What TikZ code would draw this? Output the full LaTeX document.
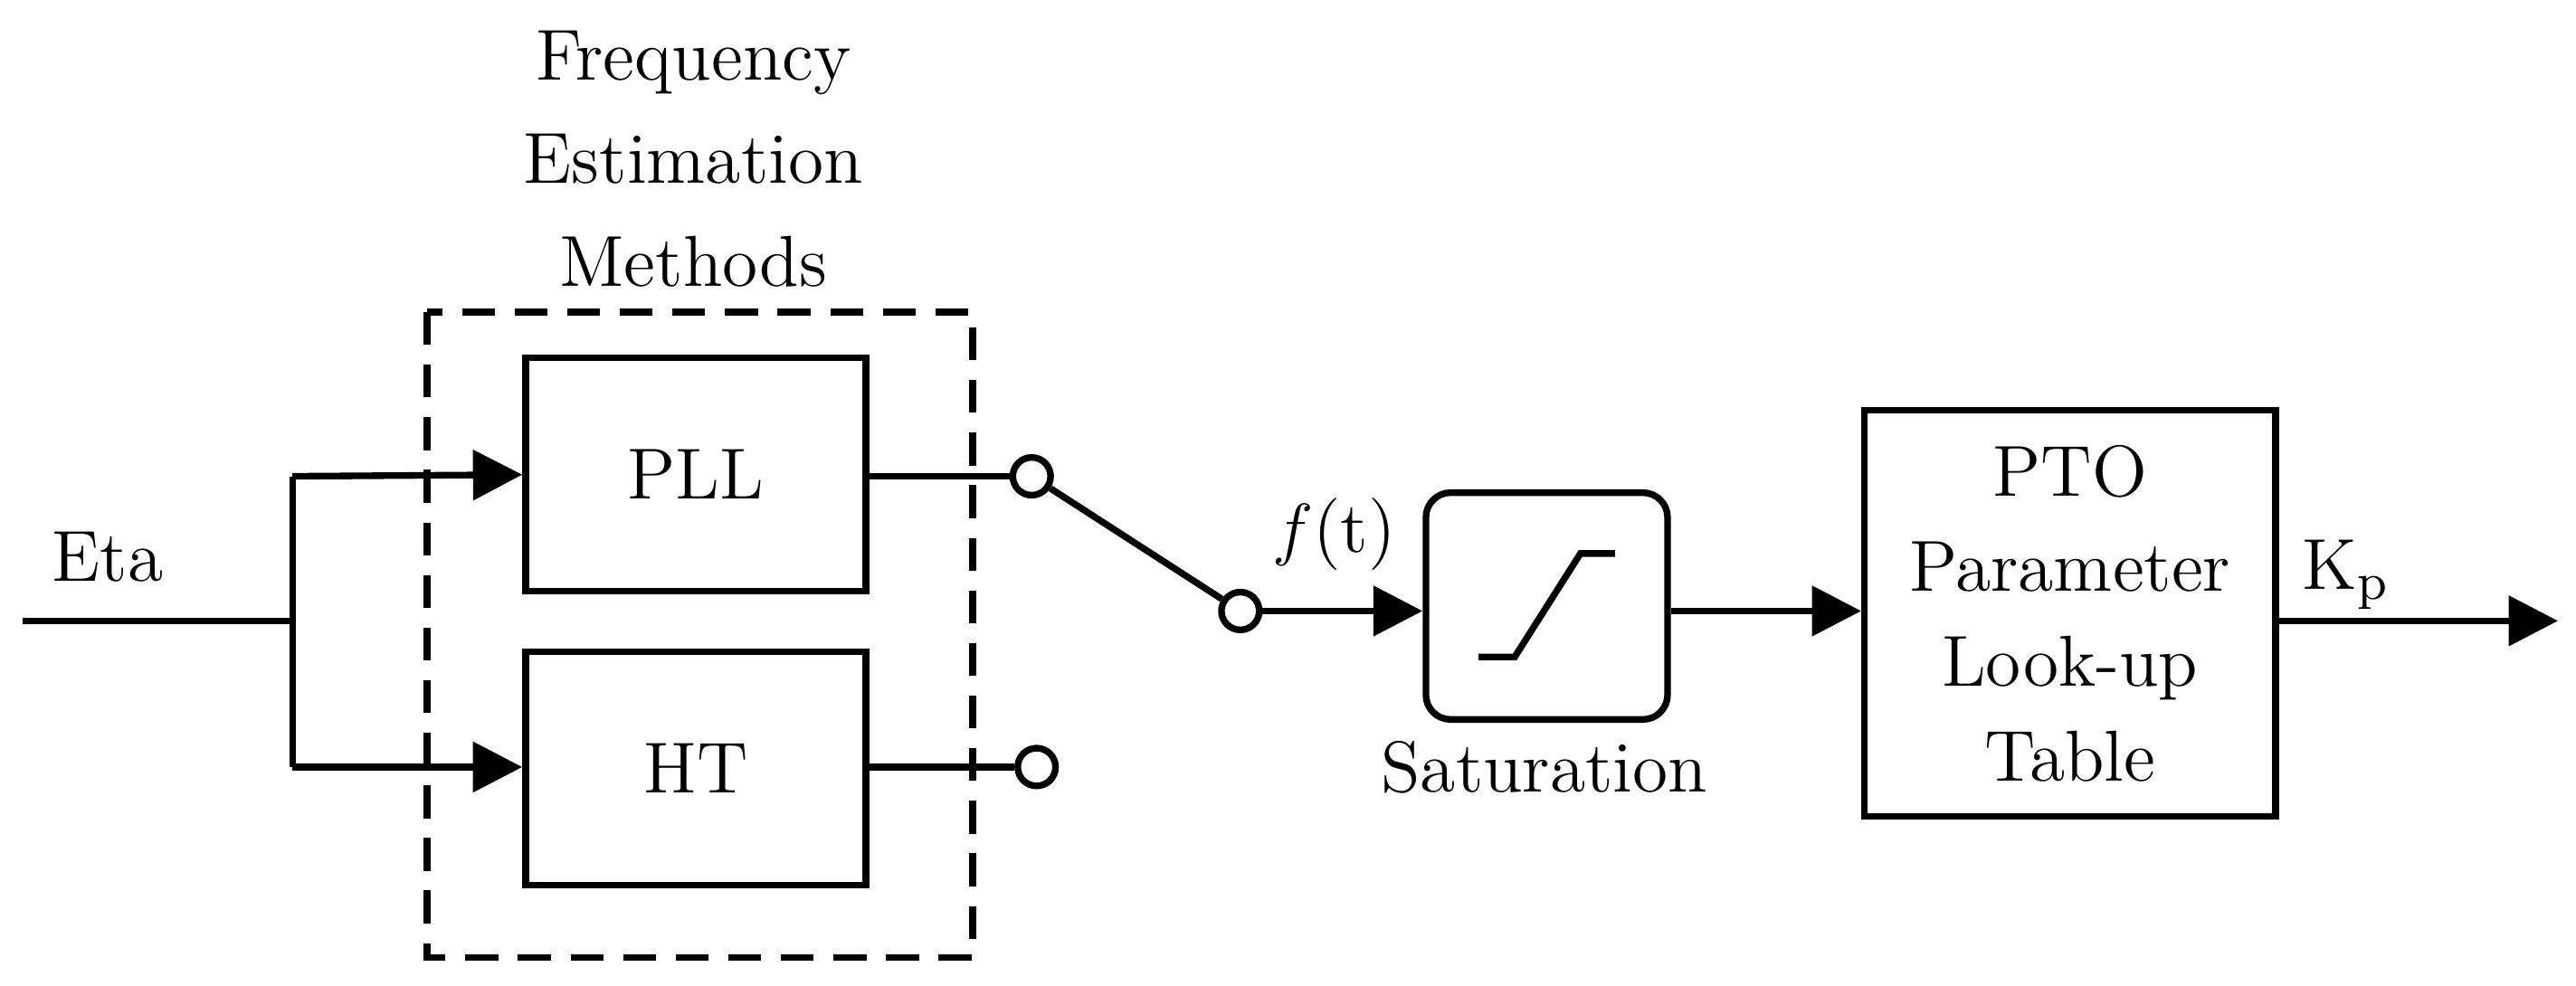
\documentclass[tikz,border=0pt]{standalone}
\usetikzlibrary{arrows.meta}
\begin{document}
\begin{tikzpicture}[x=0.01cm,y=-0.01cm,line width=1.15pt,
  every node/.style={font=\fontsize{12.5}{15}\selectfont},
  arr/.style={-{Triangle[length=0.3cm,width=0.3cm]}},
  blk/.style={draw,minimum width=2.07cm,minimum height=1.42cm,inner sep=0pt},
  term/.style={draw,circle,minimum size=0.23cm,inner sep=0pt}]
\useasboundingbox (0,0) rectangle (1568,600);
\draw[dashed,line width=1.15pt,dash pattern=on 0.2cm off 0.12cm] (260,190) rectangle (592,583);
\node[align=center] (title) at (422,97) {Frequency\\[0.1cm]Estimation\\[0.1cm]Methods};
\coordinate (in) at (14,378);
\coordinate (br) at (178,378);
\coordinate (bt) at (178,290);
\coordinate (bb) at (178,467);
\node[blk] (pll) at (423.5,289) {PLL};
\node[blk] (ht) at (423.5,468) {HT};
\node[anchor=south west] (eta) at (18,368) {Eta};
\draw (in) -- (br);
\draw (bt) -- (bb);
\draw[arr] (bt) -- (pll.west);
\draw[arr] (bb) -- (pll.west |- bb);
\node[term] (c1) at (628,290) {};
\node[term] (c2) at (631,467) {};
\node[term] (c3) at (755,372) {};
\draw (pll.east |- c1) -- (c1);
\draw (ht.east |- c2) -- (c2);
\draw (c1) -- (c3);
\node[draw,rounded corners=0.15cm,minimum width=1.47cm,minimum height=1.38cm,inner sep=0pt] (sat) at (941.5,369) {};
\draw (900,400) -- (922,400) -- (962,337) -- (983,337);
\node (satl) at (940,467) {Saturation};
\draw[arr] (c3) -- (sat.west |- c3);
\node (ft) at (812,325) {$f$(t)};
\node[draw,minimum width=2.5cm,minimum height=2.47cm,inner sep=0pt,align=center] (pto) at (1260,373.5) {PTO\\[0.05cm]Parameter\\[0.05cm]Look-up\\[0.05cm]Table};
\draw[arr] (sat.east |- c3) -- (pto.west |- c3);
\coordinate (out) at (1557,378);
\draw[arr] (pto.east |- out) -- (out);
\node (kp) at (1428,350) {K$_\mathrm{p}$};
\end{tikzpicture}
\end{document}
